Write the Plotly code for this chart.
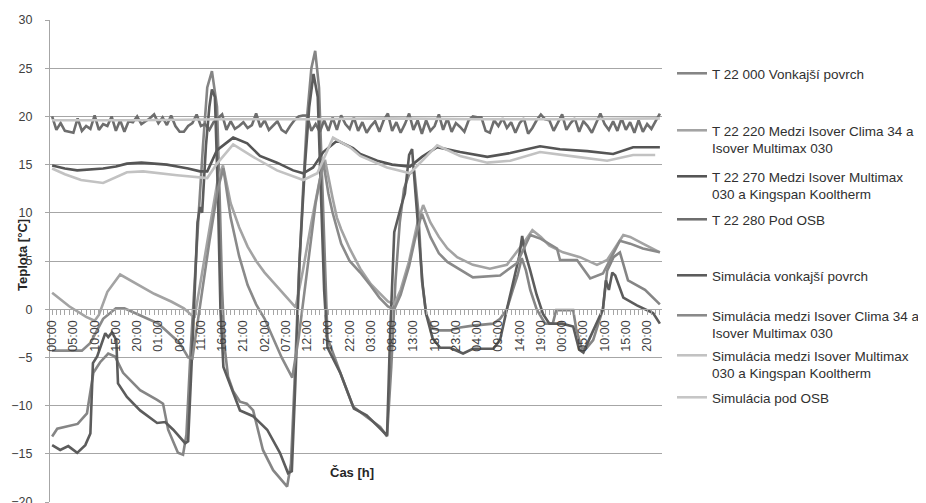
import plotly.graph_objects as go

# ---------------- data ----------------
tick_hours = list(range(0, 141, 5))
tick_labels = ["00:00", "05:00", "10:00", "15:00", "20:00", "01:00", "06:00", "11:00", "16:00", "21:00",
               "02:00", "07:00", "12:00", "17:00", "22:00", "03:00", "08:00", "13:00", "18:00", "23:00",
               "04:00", "09:00", "14:00", "19:00", "00:00", "05:00", "10:00", "15:00", "20:00"]

# T 22 000 Vonkajsi povrch (measured outer surface)
t000_h = [0, 1.2, 6, 8.2, 9.7, 11.3, 13.2, 14.8, 16.7, 20.7, 24.7, 26.1, 27.3, 29.6, 30.8, 31.6, 32.5, 33.5,
          34.5, 35.5, 36.5, 37.6, 38.8, 39.4, 40, 40.6, 41.4, 42.6, 44.2, 45.8, 47.3, 49.6, 52, 55.3, 56.2,
          57, 58, 59, 60, 61, 61.9, 62.8, 63.5, 64.2, 64.8, 67.8, 70.8, 74.1, 77.2, 78.8, 79.8, 80.8, 81.8,
          82.8, 84, 85.2, 86.2, 87, 88, 89.5, 91.3, 93.6, 96, 99, 103.8, 105.4, 107, 108.4, 109.5, 110.5,
          111.5, 112.5, 114, 116, 117.8, 118.6, 122.6, 123.3, 124.6, 125.8, 127.3, 129.6, 130.6, 132.1,
          133.6, 135.5, 139.5, 143]
t000_v = [-13.2, -12.4, -11.9, -10.8, -6.6, -5.5, -4.6, -4.9, -6.6, -8.4, -9.4, -9.8, -12.5, -14.9, -15.1, -13,
          -5, 3, 10, 17, 23, 24.7, 21, 12, 2, -4, -7, -8.5, -9.6, -9.8, -10.5, -14.6, -16.7, -18.4, -16,
          -8, 3, 12, 20, 25, 26.8, 23, 14, 3, -3, -6.6, -10.1, -11.2, -12.2, -13.2, -6, 3, 9,
          12.5, 14, 14.4, 10, 3, -0.5, -2, -2.2, -2.2, -1.9, -1.7, -1.5, -1.0, 0.0, 2, 3.5, 5.3,
          4, 2, 0, -1.5, -1.5, -0.1, -0.1, -2, -4.1, -4.0, -3.2, 0, 4, 5.4,
          5.9, 3, 2, 0.5]

# T 22 220 Medzi Isover Clima 34 a Isover Multimax 030
t220_h = [0, 4, 8, 10, 11, 13, 16, 20, 24, 28, 31, 33.5, 35, 37, 39, 40.2, 42, 44, 46, 48, 50, 52, 54, 56,
          57.3, 59, 61, 63, 64.2, 66, 67, 68, 70, 72.5, 75, 77, 79, 80.5, 82, 84, 86, 87.3, 89, 91, 93,
          95.3, 99, 103, 107, 110.8, 113, 115, 117, 120.2, 124.2, 128.2, 130.6, 134.4, 136, 139, 143]
t220_v = [1.7, 0.3, -0.8, -1.2, -0.6, 1.8, 3.6, 2.6, 1.6, 0.8, 0.1, -0.9, 3, 8.5, 13.5, 14.9, 11, 8.5, 6.5, 5,
          3.8, 2.8, 1.8, 0.8, 0.2, 4, 9, 13.5, 15.5, 11.5, 9.5, 8.3, 6.3, 4.2, 2.6, 1.7, 0.8, 0.5, 2, 5,
          9, 10.8, 9, 7.5, 6.3, 5.4, 4.6, 4.2, 4.6, 6.8, 8.2, 7.5, 6.6, 5.9, 5.4, 4.6, 5.1, 7.7, 7.5,
          6.8, 5.9]

# T 22 270 Medzi Isover Multimax 030 a Kingspan Kooltherm
t270_h = [0, 3, 5.9, 9, 12, 15, 17.6, 21, 23.8, 27, 29.4, 32, 34.8, 36.5, 38.8, 42.6, 45.9, 48.9, 52.9, 56.7,
          59.1, 61.4, 63.8, 67.1, 70.8, 72.5, 76.5, 80, 84.2, 87, 90.6, 96, 102.4, 107.8, 114.8, 119.5,
          125.9, 132, 136.7, 143]
t270_v = [14.9, 14.6, 14.4, 14.5, 14.6, 14.8, 15.1, 15.2, 15.1, 15.0, 14.8, 14.6, 14.3, 14.3, 16.5, 17.8, 17.2,
          15.9, 15.2, 14.4, 14.1, 14.7, 16.3, 17.5, 16.7, 16.1, 15.4, 15.0, 14.8, 15.8, 16.8, 16.3, 15.8,
          16.2, 16.9, 16.6, 16.4, 16.1, 16.8, 16.8]

# T 22 280 Pod OSB (hourly, measured interior)
t280_v = [20.0, 18.6, 19.3, 18.5, 18.4, 18.3, 19.8, 18.5, 19.0, 18.7, 20.1, 18.6, 19.2, 19.0, 20.0, 18.5,
          19.6, 18.4, 19.5, 19.4, 20.0, 19.2, 19.5, 19.8, 20.2, 19.3, 19.9, 19.1, 20.1, 19.0,
          18.4, 18.4, 19.0, 19.3, 20.2, 19.0, 19.2, 18.6, 19.4, 19.8, 20.2, 18.6, 19.5, 18.7, 19.0,
          19.4, 18.8, 19.1, 20.3, 18.9, 19.6, 18.6, 19.1, 19.5, 18.6, 18.3, 19.0, 19.6, 20.0, 20.1,
          20.1, 18.5, 19.2, 18.4, 19.6, 18.5, 19.9, 18.6, 20.1, 19.2, 18.7, 19.9, 18.5, 19.4, 18.3,
          19.0, 19.5, 18.4, 19.6, 20.3, 18.5, 19.4, 18.3, 19.2, 20.3, 18.6, 19.6, 18.2, 19.6, 18.5,
          19.0, 20.2, 18.6, 19.8, 18.4, 19.3, 18.9, 18.4, 19.6, 20.0, 19.9, 19.9, 18.5, 18.3, 19.6,
          19.0, 19.8, 18.8, 19.4, 18.3, 19.3, 19.8, 18.2, 18.8, 19.6, 20.2, 19.7, 19.6, 18.5, 19.3,
          20.2, 18.6, 19.3, 19.8, 18.4, 19.5, 19.0, 18.3, 19.3, 20.3, 19.2, 18.6, 19.5, 18.5, 19.8,
          18.6, 19.4, 18.3, 19.6, 18.4, 19.2, 18.7, 19.5, 20.3]
t280_h = list(range(len(t280_v)))

# Simulacia vonkajsi povrch
s_out_h = [0, 1.9, 3.8, 5.9, 7.8, 9, 9.6, 10.6, 12.5, 13.2, 14.1, 15.1, 15.5, 17.6, 20.7, 24.7, 26.6, 28.5,
           31.3, 32, 33.2, 34.2, 34.8, 35.3, 36.2, 37, 37.6, 38.3, 39, 39.6, 40.3, 42.6, 44.2, 47.3, 50.6,
           53.6, 55.5, 56.4, 57.2, 58.2, 59.5, 60.5, 61.5, 62.5, 63.3, 64, 64.8, 67.8, 71, 74, 77, 78.8,
           79.5, 80.5, 82, 83, 84, 84.7, 85.5, 86.2, 87.2, 88, 89.5, 91.3, 93.6, 96.7, 99, 103.8, 105.4,
           107, 108.5, 109.9, 110.6, 111.2, 112.5, 114, 115.5, 117, 120, 122.6, 124, 125, 126.5, 129.6,
           130.3, 131.0, 131.8, 132.5, 134.4, 137.6, 141.4, 143]
s_out_v = [-14.1, -14.6, -14.2, -14.9, -14.1, -12.9, -5.6, -4.9, -2.5, -2.9, -2.4, -3.2, -7.7, -9.1, -10.5,
           -11.8, -11.7, -12.5, -13.9, -13.7, -2, 9, 10.6, 10, 17, 21, 22.8, 22, 12, 0, -6, -8.7, -10.5,
           -11.1, -12.5, -14.9, -17, -16.8, -8, 5, 15, 21, 24.4, 22, 12, 2, -4, -6.6, -10.3, -11, -12.3,
           -13.1, -3, 8, 10.5, 12, 16, 16.6, 12, 8, 2.5, -0.5, -3, -4, -4, -4.6, -4.1, -4.1, -3.2, 0, 3,
           5.5, 7.6, 6, 4, 1.5, -0.5, -1.5, -1.5, -1.8, -4.2, -4.5, -3, 0, 3, 2, 3.8, 3.5, 1.2, 0.4,
           -0.4, -1.5]

# Simulacia medzi Isover Clima 34 a Isover Multimax 030
s_clima_h = [0, 7, 9, 12, 15, 17, 20, 25, 30, 32, 33, 35, 37, 39, 40.3, 42, 44, 46, 48, 50, 52, 54, 56.5,
             58, 60, 62, 63.8, 65, 66, 68, 70, 72.5, 75, 77, 79, 80.5, 82, 84, 85.5, 87, 89, 91, 93, 95.3,
             99, 105.4, 109.4, 112.5, 115, 118.8, 119.5, 123.5, 126.6, 129.6, 133.6, 136, 139, 143]
s_clima_v = [-4.3, -4.3, -3.5, -1, 0.1, 0.1, -0.5, -1.5, -3.5, -5, -5.1, 1, 7, 12.5, 14.6, 9.5, 5.5, 2.5,
             0.5, -1, -3, -5, -7.1, -3, 4, 11, 15.3, 12, 10, 6.8, 5, 3.8, 2.4, 1.2, 0.3, 0, 1.5, 4.5, 7.5,
             9.9, 7.5, 5.8, 4.9, 4.3, 3.3, 3.5, 4.8, 7.7, 7.3, 6.3, 5.1, 5.1, 3.2, 3.7, 7.1, 6.8, 6.3, 5.9]

# Simulacia medzi Isover Multimax 030 a Kingspan Kooltherm
s_multi_h = [0, 3, 6.8, 12, 17.6, 21.4, 29.4, 36.5, 38.8, 42.6, 47.3, 52.9, 59.1, 62.4, 66.1, 70.1, 72.5,
             76.5, 78.8, 84.2, 90.6, 96, 102.4, 107.8, 114.8, 123.5, 130.6, 136.7, 141.9]
s_multi_v = [14.6, 14.0, 13.4, 13.1, 14.2, 14.3, 13.9, 13.6, 15.1, 17.1, 15.8, 14.4, 13.4, 14.1, 17.8, 16.8,
             15.9, 15.1, 14.7, 14.1, 17.0, 15.9, 15.2, 15.4, 16.3, 15.8, 15.4, 16.0, 16.0]

# Simulacia pod OSB
s_osb_h = [0, 20, 40, 60, 80, 100, 120, 143]
s_osb_v = [19.6, 19.6, 19.7, 19.7, 19.8, 19.7, 19.7, 19.8]

series = [
    ("T 22 000 Vonkajší povrch", t000_h, t000_v, "#858585"),
    ("T 22 220 Medzi Isover Clima 34 a<br>Isover Multimax 030", t220_h, t220_v, "#a3a3a3"),
    ("T 22 270 Medzi Isover Multimax<br>030 a Kingspan Kooltherm", t270_h, t270_v, "#555555"),
    ("T 22 280 Pod OSB", t280_h, t280_v, "#6e6e6e"),
    ("Simulácia vonkajší povrch", s_out_h, s_out_v, "#5c5c5c"),
    ("Simulácia medzi Isover Clima 34 a<br>Isover Multimax 030", s_clima_h, s_clima_v, "#8a8a8a"),
    ("Simulácia medzi Isover Multimax<br>030 a Kingspan Kooltherm", s_multi_h, s_multi_v, "#c2c2c2"),
    ("Simulácia pod OSB", s_osb_h, s_osb_v, "#c6c6c6"),
]
legend_rows = [73, 130, 176, 219, 275, 315, 355, 397]   # screen row of each legend entry

# ---------------- figure ----------------
# page body has an 8px margin: the figure origin sits at screen (8, 8)
OFF = 8
W, H = 926, 503
P_L, P_R, P_T, P_B = 50, 662, 20, 502          # wanted plot area in screen pixels
ML, MT = P_L - OFF, P_T - OFF
MR, MB = W - (P_R - OFF), H - (P_B - OFF)
PW, PH = P_R - P_L, P_B - P_T
FONT = "Liberation Sans"


def px(sx):
    return (sx - P_L) / PW


def py(sy):
    return (P_B - sy) / PH


fig = go.Figure()
for i, (name, xs, ys, col) in enumerate(series):
    lg = "legend" if i == 0 else f"legend{i + 1}"
    fig.add_trace(go.Scatter(x=xs, y=ys, mode="lines", name=name, legend=lg,
                             line=dict(color=col, width=2.6)))

legends = {}
for i, row in enumerate(legend_rows):
    key = "legend" if i == 0 else f"legend{i + 1}"
    legends[key] = dict(x=px(672), xanchor="left", y=py(row - 15), yanchor="top",
                        valign="top", font=dict(family=FONT, size=13.5, color="#303030"),
                        bgcolor="rgba(0,0,0,0)", itemwidth=30, tracegroupgap=0)

fig.update_layout(
    width=W, height=H, margin=dict(l=ML, r=MR, t=MT, b=MB, autoexpand=False),
    plot_bgcolor="white", paper_bgcolor="white", showlegend=True,
    font=dict(family=FONT, size=12.5, color="#404040"),
    xaxis=dict(range=[-0.5, 143.5], anchor="free", position=0.4, showline=True, linecolor="#a6a6a6",
               linewidth=1.3, showgrid=False, zeroline=False, tickmode="array", tickvals=tick_hours,
               ticktext=tick_labels, tickangle=-90, ticks="outside", ticklen=5, tickcolor="#a6a6a6",
               tickfont=dict(family=FONT, size=12.5, color="#404040"),
               minor=dict(dtick=1, ticks="outside", ticklen=5, tickcolor="#a6a6a6", showgrid=False)),
    yaxis=dict(range=[-20, 30], dtick=5, showline=True, linecolor="#a6a6a6", linewidth=1.3,
               gridcolor="#a6a6a6", gridwidth=1, zeroline=False, ticks="outside", ticklen=4,
               tickcolor="#a6a6a6", ticklabelstandoff=10,
               tickfont=dict(family=FONT, size=12.5, color="#404040")),
    **legends,
)

fig.add_annotation(text="<b>Teplota [°C]</b>", textangle=-90, xref="paper", yref="paper",
                   x=px(22), y=py(255), xanchor="center", yanchor="middle", showarrow=False,
                   font=dict(family=FONT, size=13, color="#262626"))
fig.add_annotation(text="<b>Čas [h]</b>", xref="paper", yref="paper",
                   x=px(352), y=py(472), xanchor="center", yanchor="middle", showarrow=False,
                   font=dict(family=FONT, size=13, color="#262626"))

fig.write_html("out.html")
